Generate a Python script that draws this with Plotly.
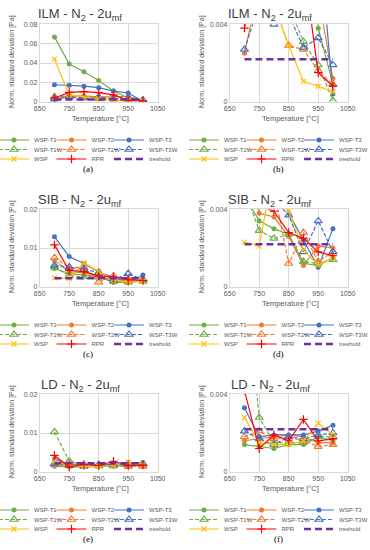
import plotly.graph_objects as go

temps = [700, 750, 800, 850, 900, 950, 1000]
series_names = ["WSP-T1", "WSP-T2", "WSP-T3", "WSP-T1W", "WSP-T2W", "WSP-T3W", "WSP", "RPR", "treshold"]
x_ticks = [650, 750, 850, 950, 1050]

# ILM
ilm_T1 = [0.067, 0.039, 0.031, 0.022, 0.011, 0.0038, 0.0009]
ilm_T2 = [0.0025, 0.006, 0.006, 0.005, 0.005, 0.0055, 0.0012]
ilm_T3 = [0.0175, 0.017, 0.016, 0.0145, 0.011, 0.009, 0.0004]
ilm_T1W = [0.005, 0.006, 0.005, 0.005, 0.0031, 0.0019, 0.00005]
ilm_T2W = [0.0045, 0.006, 0.005, 0.0029, 0.0027, 0.0016, 0.0009]
ilm_T3W = [0.0027, 0.005, 0.004, 0.0045, 0.0028, 0.0033, 0.0019]
ilm_WSP = [0.044, 0.007, 0.005, 0.0029, 0.00105, 0.0008, 0.0005]
ilm_RPR = [0.0038, 0.0097, 0.0105, 0.0093, 0.0071, 0.0015, 0.0008]
ilm_thr = [0.0022, 0.0022, 0.0022, 0.0022, 0.0022, 0.0022, 0.0022]

# SIB
sib_T1 = [0.0047, 0.0034, 0.0030, 0.0027, 0.0012, 0.0011, 0.0015]
sib_T2 = [0.0068, 0.0038, 0.0036, 0.0026, 0.0011, 0.0021, 0.0020]
sib_T3 = [0.0129, 0.0078, 0.0060, 0.0038, 0.0024, 0.0010, 0.0030]
sib_T1W = [0.0050, 0.0029, 0.0025, 0.0027, 0.0013, 0.0012, 0.0014]
sib_T2W = [0.0075, 0.0050, 0.0050, 0.0012, 0.0028, 0.0013, 0.0018]
sib_T3W = [0.0055, 0.0050, 0.0045, 0.0037, 0.0018, 0.0034, 0.0018]
sib_WSP = [0.0023, 0.0021, 0.0062, 0.0039, 0.0019, 0.0011, 0.0015]
sib_RPR = [0.0108, 0.0042, 0.0039, 0.0028, 0.0025, 0.0018, 0.0016]
sib_thr = [0.0022, 0.0022, 0.0022, 0.0022, 0.0022, 0.0022, 0.0022]

# LD
ld_T1 = [0.0014, 0.0013, 0.0012, 0.0014, 0.0014, 0.0018, 0.0016]
ld_T2 = [0.0016, 0.0017, 0.0018, 0.0019, 0.0018, 0.0015, 0.0015]
ld_T3 = [0.0033, 0.0018, 0.0019, 0.0019, 0.0019, 0.0021, 0.0024]
ld_T1W = [0.0103, 0.0028, 0.0015, 0.0015, 0.0015, 0.0018, 0.0018]
ld_T2W = [0.0018, 0.0021, 0.0017, 0.0018, 0.0016, 0.0013, 0.0014]
ld_T3W = [0.0021, 0.0017, 0.0014, 0.0018, 0.0017, 0.0019, 0.0020]
ld_WSP = [0.0028, 0.0015, 0.0014, 0.0014, 0.0016, 0.0025, 0.0019]
ld_RPR = [0.0042, 0.0012, 0.0019, 0.0016, 0.0027, 0.0016, 0.0017]
ld_thr = [0.0022, 0.0022, 0.0022, 0.0022, 0.0022, 0.0022, 0.0022]

ilm = [ilm_T1, ilm_T2, ilm_T3, ilm_T1W, ilm_T2W, ilm_T3W, ilm_WSP, ilm_RPR, ilm_thr]
sib = [sib_T1, sib_T2, sib_T3, sib_T1W, sib_T2W, sib_T3W, sib_WSP, sib_RPR, sib_thr]
ld = [ld_T1, ld_T2, ld_T3, ld_T1W, ld_T2W, ld_T3W, ld_WSP, ld_RPR, ld_thr]

GREEN, ORANGE, BLUE = "#70AD47", "#ED7D31", "#4472C4"
YELLOW, RED, PURPLE = "#FFC000", "#FF0000", "#7030A0"
styles = [
    dict(color=GREEN, dash="solid", symbol="circle", size=5),
    dict(color=ORANGE, dash="solid", symbol="circle", size=5),
    dict(color=BLUE, dash="solid", symbol="circle", size=5),
    dict(color=GREEN, dash="4px,2px", symbol="triangle-up-open", size=7),
    dict(color=ORANGE, dash="4px,2px", symbol="triangle-up-open", size=7),
    dict(color=BLUE, dash="4px,2px", symbol="triangle-up-open", size=7),
    dict(color=YELLOW, dash="solid", symbol="x-thin", size=5),
    dict(color=RED, dash="solid", symbol="cross-thin", size=6),
    dict(color=PURPLE, dash="7px,4px", symbol=None, size=0),
]

W, H = 370, 550
def fx(p):
    return p / W
def fy(p):
    return 1 - p / H

panels = [
    dict(name="ILM", data=ilm, ymax=0.08, dtick=0.02, row=0, col=0, cap="(a)"),
    dict(name="ILM", data=ilm, ymax=0.004, dtick=0.004, row=0, col=1, cap="(b)"),
    dict(name="SIB", data=sib, ymax=0.02, dtick=0.01, row=1, col=0, cap="(c)"),
    dict(name="SIB", data=sib, ymax=0.004, dtick=0.004, row=1, col=1, cap="(d)"),
    dict(name="LD", data=ld, ymax=0.02, dtick=0.01, row=2, col=0, cap="(e)"),
    dict(name="LD", data=ld, ymax=0.004, dtick=0.004, row=2, col=1, cap="(f)"),
]

ROW_DY = 185
COL_DX = 190
PLOT_L, PLOT_R = 39.7, 157.7
PLOT_T, PLOT_B = 24.3, 101.7

fig = go.Figure()
layout = dict(
    width=W, height=H, showlegend=True,
    margin=dict(l=0, r=0, t=0, b=0, autoexpand=False),
    paper_bgcolor="white", plot_bgcolor="white",
    font=dict(family="Liberation Sans, Arial, sans-serif", color="#595959"),
    annotations=[],
)
GRID = "#D9D9D9"
legend_rows_y = [140, 149.5, 159]
legend_cols_x = [-6, 51.5, 109]

for k, p in enumerate(panels):
    ox = p["col"] * COL_DX
    oy = p["row"] * ROW_DY
    ax = k + 1
    xname = "xaxis" if ax == 1 else f"xaxis{ax}"
    yname = "yaxis" if ax == 1 else f"yaxis{ax}"
    xref = "x" if ax == 1 else f"x{ax}"
    yref = "y" if ax == 1 else f"y{ax}"
    layout[xname] = dict(
        domain=[fx(PLOT_L + ox), fx(PLOT_R + ox)], anchor=yref,
        range=[650, 1050], tickvals=x_ticks, showgrid=True, gridcolor=GRID, gridwidth=1,
        showline=True, mirror=True, linecolor=GRID, linewidth=1, zeroline=False,
        ticks="", tickfont=dict(size=7, color="#595959"), fixedrange=True,
    )
    layout[yname] = dict(
        domain=[fy(PLOT_B + oy), fy(PLOT_T + oy)], anchor=xref,
        range=[0, p["ymax"]], dtick=p["dtick"], tick0=0, showgrid=True, gridcolor=GRID, gridwidth=1,
        showline=True, mirror=True, linecolor=GRID, linewidth=1, zeroline=False,
        ticks="", tickfont=dict(size=7, color="#595959"), fixedrange=True,
    )
    for i, (nm, vals) in enumerate(zip(series_names, p["data"])):
        st = styles[i]
        leg_n = k * 9 + i + 1
        leg_id = "legend" if leg_n == 1 else f"legend{leg_n}"
        if st["symbol"] is None:
            tr = go.Scatter(x=temps, y=vals, mode="lines", name=nm, showlegend=True,
                            line=dict(color=st["color"], width=2.5, dash=st["dash"]),
                            xaxis=xref, yaxis=yref, legend=leg_id)
        else:
            if st["symbol"] in ("x-thin", "cross-thin", "triangle-up-open"):
                mk = dict(symbol=st["symbol"], size=st["size"], color=st["color"],
                          line=dict(color=st["color"], width=1.2))
            else:
                mk = dict(symbol=st["symbol"], size=st["size"], color=st["color"],
                          line=dict(width=0))
            tr = go.Scatter(x=temps, y=vals, mode="lines+markers", name=nm, showlegend=True,
                            line=dict(color=st["color"], width=1.2, dash=st["dash"]),
                            marker=mk, xaxis=xref, yaxis=yref, legend=leg_id)
        fig.add_trace(tr)
        layout[leg_id] = dict(
            x=fx(legend_cols_x[i % 3] + ox), y=fy(legend_rows_y[i // 3] + oy),
            xanchor="left", yanchor="middle", orientation="h", itemwidth=30, visible=True,
            font=dict(size=6, color="#595959"), bgcolor="rgba(0,0,0,0)", borderwidth=0,
            tracegroupgap=0, itemclick=False, itemdoubleclick=False,
        )
    layout["annotations"].append(dict(
        text=f"{p['name']} - N<sub>2</sub> - 2u<sub>mf</sub>", x=fx(80 + ox), y=fy(15 + oy),
        xref="paper", yref="paper", showarrow=False, xanchor="center", yanchor="middle",
        font=dict(size=13, color="#404040")))
    layout["annotations"].append(dict(
        text="Norm. standard deviation [Pa]", x=fx(12 + ox), y=fy(62 + oy), textangle=-90,
        xref="paper", yref="paper", showarrow=False, xanchor="center", yanchor="middle",
        font=dict(size=7, color="#595959")))
    layout["annotations"].append(dict(
        text="Temperature [°C]", x=fx(100 + ox), y=fy(118 + oy),
        xref="paper", yref="paper", showarrow=False, xanchor="center", yanchor="middle",
        font=dict(size=7.5, color="#595959")))
    layout["annotations"].append(dict(
        text=p["cap"], x=fx(88 + ox), y=fy(169 + oy),
        xref="paper", yref="paper", showarrow=False, xanchor="center", yanchor="middle",
        font=dict(size=9, color="#000000", family="Liberation Serif, Times New Roman, serif")))

fig.update_layout(**layout)
fig.write_html("out.html", config={"displayModeBar": False},
               post_script="document.body.style.margin='0px';")
